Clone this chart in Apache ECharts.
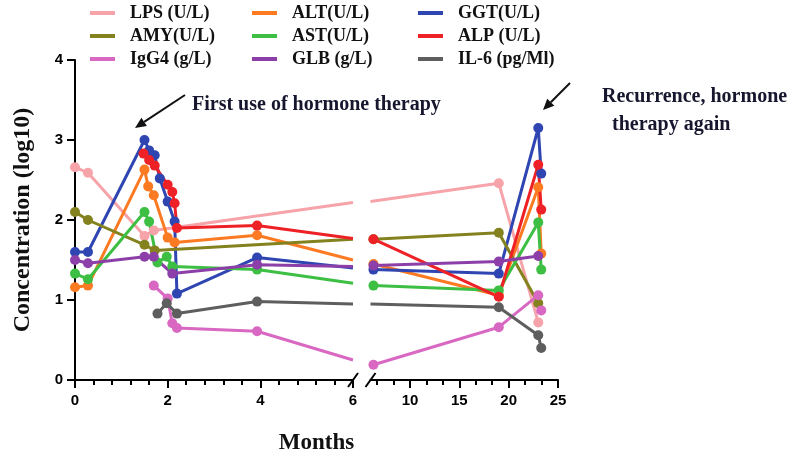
<!DOCTYPE html>
<html>
<head>
<meta charset="utf-8">
<script src="https://cdn.jsdelivr.net/npm/echarts@6/dist/echarts.min.js"></script>
<style>
  html, body { margin: 0; padding: 0; background: #fff; }
  #chart { width: 800px; height: 456px; }
</style>
</head>
<body>
<div id="chart"></div>
<script>
// values, [month, log10 concentration]
// left panel: 0-6 months, right panel: 6-25 months (axis break)
const lpsLeft  = [[0, 2.66], [0.28, 2.59], [1.5, 1.8], [1.7, 1.87], [6, 2.22]];
const lpsRight = [[6, 2.23], [19, 2.46], [23, 0.72]];

const altLeft  = [[0, 1.16], [0.28, 1.18], [1.5, 2.63], [1.58, 2.42], [1.7, 2.31], [2.0, 1.78], [2.15, 1.72], [3.93, 1.81], [6, 1.5]];
const altRight = [[6, 1.45], [6.3, 1.45], [19, 1.06], [23, 2.41], [23.3, 1.58]];

const ggtLeft  = [[0, 1.6], [0.28, 1.6], [1.5, 3.0], [1.6, 2.87], [1.72, 2.81], [1.83, 2.52], [2.0, 2.23], [2.15, 1.98], [2.2, 1.08], [3.93, 1.53], [6, 1.4]];
const ggtRight = [[6, 1.38], [6.3, 1.38], [19, 1.33], [23, 3.15], [23.3, 2.58]];

const amyLeft  = [[0, 2.1], [0.28, 2.0], [1.5, 1.69], [1.72, 1.62], [6, 1.76]];
const amyRight = [[6, 1.76], [6.3, 1.76], [19, 1.84], [23, 0.96]];

const astLeft  = [[0, 1.33], [0.28, 1.26], [1.5, 2.1], [1.6, 1.98], [1.78, 1.47], [1.98, 1.54], [2.1, 1.42], [3.93, 1.38], [6, 1.21]];
const astRight = [[6, 1.18], [6.3, 1.18], [19, 1.12], [23, 1.97], [23.3, 1.38]];

const alpLeft  = [[1.48, 2.83], [1.6, 2.75], [1.72, 2.68], [2.0, 2.44], [2.1, 2.35], [2.15, 2.21], [2.2, 1.9], [3.93, 1.93], [6, 1.77]];
const alpRight = [[6, 1.77], [6.3, 1.76], [19, 1.04], [23, 2.69], [23.3, 2.13]];

const igg4Left  = [[1.7, 1.18], [2.0, 1.02], [2.1, 0.71], [2.2, 0.65], [3.93, 0.61], [6, 0.25]];
const igg4Right = [[6, 0.2], [6.3, 0.19], [19, 0.66], [23, 1.06], [23.3, 0.87]];

const glbLeft  = [[0, 1.5], [0.28, 1.46], [1.5, 1.54], [1.7, 1.54], [2.1, 1.33], [3.93, 1.44], [6, 1.42]];
const glbRight = [[6, 1.43], [6.3, 1.43], [19, 1.48], [23, 1.55]];

const il6Left  = [[1.78, 0.83], [1.98, 0.96], [2.2, 0.83], [3.93, 0.98], [6, 0.95]];
const il6Right = [[6, 0.95], [19, 0.91], [23, 0.56], [23.3, 0.4]];

const yTicks = [0, 1, 2, 3, 4];
const rightLabels = [10, 15, 20, 25];
const rightMinor = [6.67, 8.33, 11.67, 13.33, 16.67, 18.33, 21.67, 23.33];

const BREAK_AT = 6; // both panels meet at 6 months

const serif = "'Liberation Serif', 'Times New Roman', serif";
const sans = "'Liberation Sans', Arial, sans-serif";

const defs = [
  { name: 'LPS (U/L)',    color: '#f6a3aa', left: lpsLeft,  right: lpsRight },
  { name: 'ALT(U/L)',     color: '#fb7a22', left: altLeft,  right: altRight },
  { name: 'GGT(U/L)',     color: '#2f46b2', left: ggtLeft,  right: ggtRight },
  { name: 'AMY(U/L)',     color: '#83821f', left: amyLeft,  right: amyRight },
  { name: 'AST(U/L)',     color: '#3cbf43', left: astLeft,  right: astRight },
  { name: 'ALP (U/L)',    color: '#ee2126', left: alpLeft,  right: alpRight },
  { name: 'IgG4 (g/L)',   color: '#d868c2', left: igg4Left, right: igg4Right },
  { name: 'GLB (g/L)',    color: '#8c3fa8', left: glbLeft,  right: glbRight },
  { name: 'IL-6 (pg/Ml)', color: '#5e5e5e', left: il6Left,  right: il6Right }
];

// points on the break have no marker, the line just runs into it
function withBreak(arr) {
  return arr.map(d => d[0] === BREAK_AT ? { value: d, symbol: 'none' } : d);
}

const series = [];
defs.forEach(d => {
  [[d.left, 0, 0], [d.right, 1, 1]].forEach(([arr, xi, yi]) => {
    series.push({
      name: d.name,
      type: 'line',
      xAxisIndex: xi,
      yAxisIndex: yi,
      data: withBreak(arr),
      symbol: 'circle',
      symbolSize: 10,
      color: d.color,
      lineStyle: { width: 3, color: d.color },
      itemStyle: { color: d.color },
      emphasis: { disabled: true },
      animation: false
    });
  });
});

const axisLine = { show: true, lineStyle: { color: '#000', width: 2 } };
const tickStyle = { color: '#000', width: 2 };
const tickLabel = { color: '#000', fontFamily: sans, fontWeight: 'bold', fontSize: 15 };

function legendCol(left, names) {
  return {
    orient: 'vertical',
    left: left,
    top: 3,
    padding: 0,
    data: names,
    icon: 'rect',
    itemWidth: 25,
    itemHeight: 4,
    itemGap: 3,
    textStyle: { fontFamily: serif, fontWeight: 'bold', fontSize: 18, color: '#111', lineHeight: 20, padding: [0, 0, 0, 10] }
  };
}

const chart = echarts.init(document.getElementById('chart'), null, { renderer: 'canvas' });

const gridL = { left: 75, top: 60, width: 278, height: 320 };
const gridR = { left: 370.5, top: 60, width: 187.5, height: 320 };

chart.setOption({
  animation: false,
  backgroundColor: '#fff',
  legend: [
    legendCol(90, ['LPS (U/L)', 'AMY(U/L)', 'IgG4 (g/L)']),
    legendCol(252, ['ALT(U/L)', 'AST(U/L)', 'GLB (g/L)']),
    legendCol(418, ['GGT(U/L)', 'ALP (U/L)', 'IL-6 (pg/Ml)'])
  ],
  grid: [gridL, gridR],
  xAxis: [
    {
      gridIndex: 0, type: 'value', min: 0, max: 6, interval: 2,
      axisLine: axisLine,
      axisTick: { show: true, length: 8, lineStyle: tickStyle },
      minorTick: { show: true, splitNumber: 5, length: 5, lineStyle: tickStyle },
      axisLabel: Object.assign({ margin: 13 }, tickLabel),
      splitLine: { show: false }
    },
    {
      gridIndex: 1, type: 'value', min: 6, max: 25, position: 'bottom',
      axisLine: axisLine,
      axisTick: { show: true, length: 8, lineStyle: tickStyle, customValues: rightLabels },
      axisLabel: Object.assign({ margin: 13, customValues: rightLabels }, tickLabel),
      splitLine: { show: false }
    },
    {
      gridIndex: 1, type: 'value', min: 6, max: 25, position: 'bottom',
      axisLine: { show: false },
      axisTick: { show: true, length: 5, lineStyle: tickStyle, customValues: rightMinor },
      axisLabel: { show: false },
      splitLine: { show: false }
    }
  ],
  yAxis: [
    {
      gridIndex: 0, type: 'value', min: 0, max: 4, interval: 1,
      name: 'Concentration (log10)',
      nameLocation: 'middle',
      nameGap: 40,
      nameRotate: 90,
      nameTextStyle: { fontFamily: serif, fontWeight: 'bold', fontSize: 24, color: '#111' },
      axisLine: axisLine,
      axisTick: { show: true, length: 8, lineStyle: tickStyle },
      axisLabel: Object.assign({ margin: 12, customValues: yTicks }, tickLabel),
      splitLine: { show: false }
    },
    {
      gridIndex: 1, type: 'value', min: 0, max: 4, show: false
    }
  ],
  series: series
});

// annotations, axis-break slashes and the shared x title
const bx0 = chart.convertToPixel({ xAxisIndex: 0 }, BREAK_AT);
const bx1 = chart.convertToPixel({ xAxisIndex: 1 }, BREAK_AT);
const by = chart.convertToPixel({ yAxisIndex: 0 }, 0);
const xEnd = chart.convertToPixel({ xAxisIndex: 1 }, 25);
const xStart = chart.convertToPixel({ xAxisIndex: 0 }, 0);

function arrow(x1, y1, x2, y2) {
  const a = Math.atan2(y2 - y1, x2 - x1);
  const h = 11, w = 5;
  const bxp = x2 - h * Math.cos(a), byp = y2 - h * Math.sin(a);
  return [
    { type: 'line', shape: { x1: x1, y1: y1, x2: bxp, y2: byp }, style: { stroke: '#111', lineWidth: 2 } },
    { type: 'polygon', shape: { points: [
      [x2, y2],
      [bxp + w * Math.sin(a), byp - w * Math.cos(a)],
      [bxp - w * Math.sin(a), byp + w * Math.cos(a)]
    ] }, style: { fill: '#111' } }
  ];
}

const annoText = { fontFamily: serif, fontWeight: 'bold', fontSize: 20, fill: '#16162e', textVerticalAlign: 'middle' };

chart.setOption({
  graphic: [
    { type: 'line', shape: { x1: bx0 - 5, y1: by + 7, x2: bx0 + 5, y2: by - 7 }, style: { stroke: '#000', lineWidth: 2 } },
    { type: 'line', shape: { x1: bx1 - 5, y1: by + 7, x2: bx1 + 5, y2: by - 7 }, style: { stroke: '#000', lineWidth: 2 } },
    { type: 'text', x: (xStart + xEnd) / 2, y: 443, style: { text: 'Months', fontFamily: serif, fontWeight: 'bold', fontSize: 23, fill: '#111', textAlign: 'center', textVerticalAlign: 'middle' } },
    { type: 'text', x: 192, y: 105, style: Object.assign({ text: 'First use of hormone therapy' }, annoText) },
    { type: 'text', x: 602, y: 97, style: Object.assign({ text: 'Recurrence, hormone' }, annoText) },
    { type: 'text', x: 612, y: 125, style: Object.assign({ text: 'therapy again' }, annoText) }
  ].concat(arrow(185, 95, 135, 128), arrow(570, 83, 543, 110))
});
</script>
</body>
</html>
